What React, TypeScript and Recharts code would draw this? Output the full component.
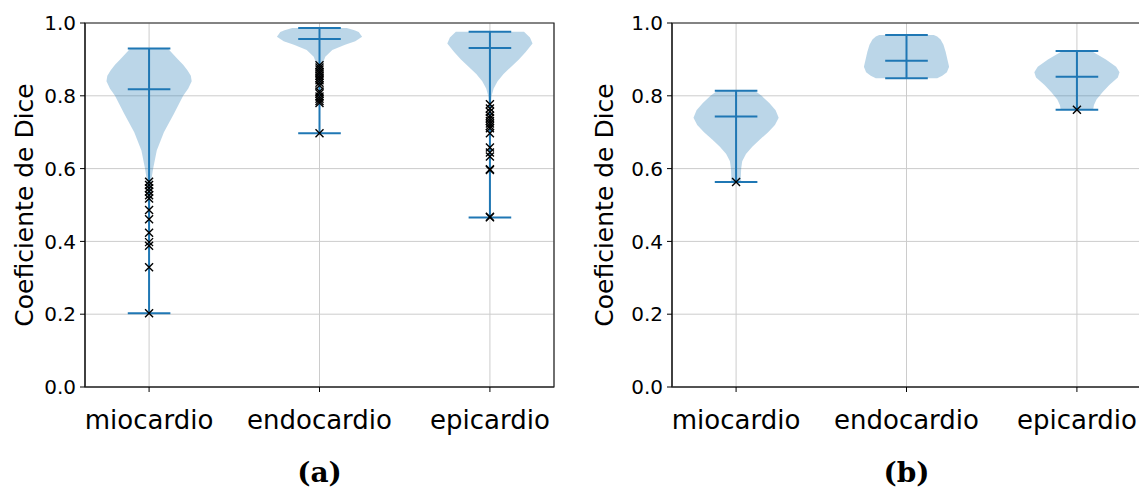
import React from 'react';
import { ComposedChart, Scatter, XAxis, YAxis, CartesianGrid, ReferenceArea } from 'recharts';

const categories = ['miocardio', 'endocardio', 'epicardio'];
const positions = [1, 2, 3];
const yTicks = [0, 0.2, 0.4, 0.6, 0.8, 1.0];

// (a) violin outlines: [dice, half width in x units], low to high
const violinA_mio = [
  [0.2025, 0.001], [0.3, 0.002], [0.45, 0.004], [0.5, 0.006], [0.55, 0.012], [0.58, 0.017],
  [0.6, 0.024], [0.65, 0.045], [0.7, 0.087], [0.75, 0.145], [0.8, 0.2], [0.82, 0.23],
  [0.84, 0.25], [0.855, 0.245], [0.87, 0.225], [0.885, 0.2], [0.9, 0.17], [0.915, 0.14], [0.93, 0.11],
];
const violinA_endo = [
  [0.697, 0.001], [0.78, 0.003], [0.83, 0.006], [0.87, 0.012], [0.89, 0.02], [0.907, 0.034],
  [0.926, 0.075], [0.94, 0.15], [0.95, 0.21], [0.962, 0.25], [0.975, 0.23], [0.98, 0.205], [0.986, 0.16],
];
const violinA_epi = [
  [0.466, 0.001], [0.6, 0.002], [0.7, 0.003], [0.78, 0.006], [0.8, 0.01], [0.82, 0.022],
  [0.84, 0.045], [0.86, 0.08], [0.88, 0.125], [0.9, 0.17], [0.92, 0.21], [0.944, 0.25],
  [0.96, 0.235], [0.976, 0.2],
];
const minA = [0.2025, 0.697, 0.466];
const medA = [0.818, 0.956, 0.931];
const maxA = [0.93, 0.986, 0.976];
const outliersA_mio = [0.564, 0.555, 0.546, 0.537, 0.527, 0.518, 0.486, 0.461, 0.424, 0.398, 0.388, 0.329, 0.2025];
const outliersA_endo = [0.884, 0.878, 0.872, 0.866, 0.861, 0.855, 0.849, 0.843, 0.836, 0.828, 0.812, 0.806, 0.798, 0.792, 0.786, 0.78, 0.697];
const outliersA_epi = [0.777, 0.765, 0.756, 0.745, 0.738, 0.731, 0.724, 0.717, 0.711, 0.697, 0.658, 0.644, 0.633, 0.598, 0.596, 0.468, 0.466];

// (b)
const violinB_mio = [
  [0.563, 0.03], [0.58, 0.028], [0.6, 0.03], [0.62, 0.036], [0.64, 0.058], [0.66, 0.095],
  [0.68, 0.14], [0.7, 0.188], [0.72, 0.228], [0.74, 0.25], [0.76, 0.232], [0.78, 0.195],
  [0.8, 0.15], [0.814, 0.11],
];
const violinB_endo = [
  [0.848, 0.18], [0.855, 0.21], [0.865, 0.237], [0.88, 0.25], [0.9, 0.24], [0.92, 0.23],
  [0.94, 0.217], [0.955, 0.2], [0.963, 0.18], [0.967, 0.16],
];
const violinB_epi = [
  [0.762, 0.095], [0.775, 0.1], [0.79, 0.115], [0.81, 0.15], [0.83, 0.19], [0.85, 0.24],
  [0.865, 0.25], [0.88, 0.23], [0.9, 0.17], [0.923, 0.085],
];
const minB = [0.563, 0.848, 0.762];
const medB = [0.743, 0.8965, 0.852];
const maxB = [0.814, 0.967, 0.923];
const outliersB_mio = [0.563];
const outliersB_endo: number[] = [];
const outliersB_epi = [0.762];

const C0 = '#1f77b4';
const X_DOMAIN: [number, number] = [0.624, 3.376];
const CAP = 0.125;

const noDot = () => <g />;

const XMark = (props: any) => {
  const { cx, cy } = props;
  const s = 4;
  return (
    <path
      d={`M${cx - s},${cy - s}L${cx + s},${cy + s}M${cx - s},${cy + s}L${cx + s},${cy - s}`}
      stroke="#000"
      strokeWidth={1.4}
      fill="none"
    />
  );
};

function outline(pos: number, profile: number[][]) {
  const right = profile.map(([y, w]) => ({ x: pos + w, y }));
  const left = [...profile].reverse().map(([y, w]) => ({ x: pos - w, y }));
  return [...right, ...left];
}

interface PanelProps {
  width: number;
  profiles: number[][][];
  mins: number[];
  meds: number[];
  maxs: number[];
  outliers: number[][];
  labelDx: number;
  caption: string;
}

function ViolinPanel({ width, profiles, mins, meds, maxs, outliers, labelDx, caption }: PanelProps) {
  return (
    <ComposedChart width={width} height={491} margin={{ top: 23, right: width - 554, left: 0, bottom: 0 }}>
      <CartesianGrid stroke="#cccccc" strokeWidth={1} />
      <XAxis
        type="number"
        dataKey="x"
        domain={X_DOMAIN}
        allowDataOverflow
        ticks={positions}
        tickFormatter={(v: number) => categories[v - 1]}
        height={104}
        tickSize={5}
        tickMargin={19}
        tick={{ fontSize: 26, fill: '#000' }}
        tickLine={{ stroke: '#000' }}
        axisLine={{ stroke: '#222', strokeWidth: 1.2 }}
        label={{
          value: caption,
          position: 'insideBottom',
          offset: 9,
          fontSize: 28,
          fontWeight: 'bold',
          fontFamily: 'DejaVu Serif',
          fill: '#000',
        }}
      />
      <YAxis
        type="number"
        dataKey="y"
        domain={[0, 1]}
        allowDataOverflow
        ticks={yTicks}
        tickFormatter={(v: number) => v.toFixed(1)}
        width={85}
        tickSize={5}
        tickMargin={4}
        tick={{ fontSize: 20, fill: '#000' }}
        tickLine={{ stroke: '#000' }}
        axisLine={{ stroke: '#222', strokeWidth: 1.2 }}
        label={{
          value: 'Coeficiente de Dice',
          angle: -90,
          position: 'center',
          dx: labelDx,
          fontSize: 25,
          fill: '#000',
        }}
      />
      <ReferenceArea x1={X_DOMAIN[0]} x2={X_DOMAIN[1]} y1={0} y2={1} fill="none" stroke="#222" strokeWidth={1.2} />

      {profiles.map((p, i) => (
        <Scatter
          key={`body-${i}`}
          data={outline(positions[i], p)}
          shape={noDot}
          line={{ fill: C0, fillOpacity: 0.3, stroke: 'none' }}
          lineType="joint"
          lineJointType="linear"
          isAnimationActive={false}
        />
      ))}
      {positions.map((pos, i) => (
        <Scatter
          key={`stem-${i}`}
          data={[{ x: pos, y: mins[i] }, { x: pos, y: maxs[i] }]}
          shape={noDot}
          line={{ stroke: C0, strokeWidth: 2 }}
          isAnimationActive={false}
        />
      ))}
      {positions.map((pos, i) =>
        [mins[i], meds[i], maxs[i]].map((v, j) => (
          <Scatter
            key={`cap-${i}-${j}`}
            data={[{ x: pos - CAP, y: v }, { x: pos + CAP, y: v }]}
            shape={noDot}
            line={{ stroke: C0, strokeWidth: 2 }}
            isAnimationActive={false}
          />
        ))
      )}
      {outliers.map((vals, i) => (
        <Scatter
          key={`out-${i}`}
          data={vals.map((v) => ({ x: positions[i], y: v }))}
          shape={XMark}
          isAnimationActive={false}
        />
      ))}
    </ComposedChart>
  );
}

export default function App() {
  return (
    <div
      style={{
        position: 'absolute',
        left: 0,
        top: 0,
        width: 1139,
        height: 491,
        overflow: 'hidden',
        background: '#fff',
        fontFamily: 'DejaVu Sans',
      }}
    >
      <div style={{ position: 'absolute', left: 0, top: 0 }}>
        <ViolinPanel
          width={570}
          profiles={[violinA_mio, violinA_endo, violinA_epi]}
          mins={minA}
          meds={medA}
          maxs={maxA}
          outliers={[outliersA_mio, outliersA_endo, outliersA_epi]}
          labelDx={-18.5}
          caption="(a)"
        />
      </div>
      <div style={{ position: 'absolute', left: 587, top: 0 }}>
        <ViolinPanel
          width={600}
          profiles={[violinB_mio, violinB_endo, violinB_epi]}
          mins={minB}
          meds={medB}
          maxs={maxB}
          outliers={[outliersB_mio, outliersB_endo, outliersB_epi]}
          labelDx={-25.5}
          caption="(b)"
        />
      </div>
    </div>
  );
}
